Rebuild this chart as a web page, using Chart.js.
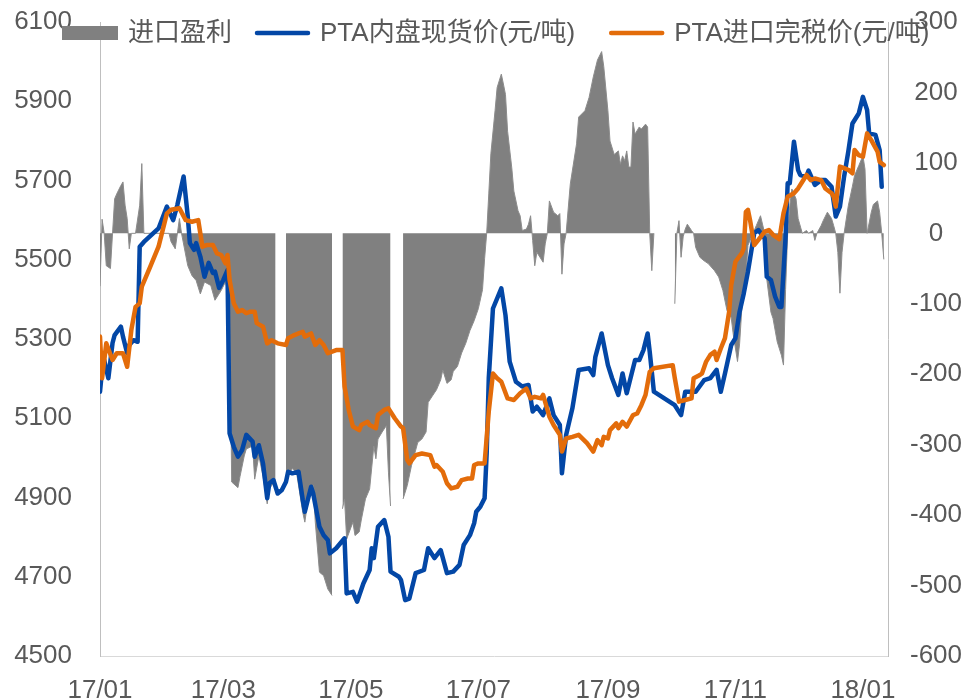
<!DOCTYPE html>
<html><head><meta charset="utf-8">
<script src="https://cdn.jsdelivr.net/npm/chart.js@4.4.1/dist/chart.umd.min.js"></script>
<style>html,body{margin:0;padding:0;background:#fff;} #wrap{width:973px;height:700px;}</style>
</head><body><div id="wrap"><canvas id="c" width="973" height="700"></canvas></div>
<script>
// x values = days since 2017-01-01
const tickDays = [0,59,120,181,243,304,365];
const tickLabels = ['17/01','17/03','17/05','17/07','17/09','17/11','18/01'];

const blueDays = [0,1,2,4,6,7,10,11,13,14,
16,18,19,21,28,32,35,37,40,42,
43,45,46,48,50,52,54,55,57,59,
61,62,64,66,68,70,73,74,76,78,
80,81,83,85,87,89,90,92,95,97,
98,101,102,105,107,109,110,113,117,118,
121,123,126,129,130,131,133,136,138,139,
143,144,146,148,151,155,157,160,163,166,
169,172,174,177,179,180,182,184,185,186,
188,192,194,196,199,202,205,207,209,212,
215,217,220,221,223,226,229,234,236,237,
240,243,245,248,250,252,256,258,260,262,
263,265,275,278,280,285,289,292,295,297,
299,302,304,306,308,310,313,315,318,319,
321,323,325,326,328,329,330,332,334,335,
338,339,342,345,347,350,352,354,356,358,
360,363,365,367,368,371,373,374];
const blueVals = [5167,5222,5247,5201,5290,5310,5331,5306,5264,5285,
5297,5293,5533,5545,5579,5634,5600,5638,5710,5609,
5542,5525,5542,5508,5457,5492,5467,5470,5429,5449,
5474,5062,5028,5003,5020,5058,5041,5003,5032,4986,
4898,4936,4944,4910,4919,4940,4965,4961,4965,4894,
4864,4927,4910,4826,4805,4793,4759,4772,4797,4658,
4662,4637,4683,4717,4772,4747,4826,4843,4801,4713,
4700,4692,4641,4645,4709,4717,4772,4747,4767,4709,
4713,4730,4780,4805,4835,4864,4877,4898,5011,5201,
5377,5428,5360,5243,5192,5180,5184,5117,5129,5108,
5150,5108,5083,4961,5058,5125,5222,5226,5209,5255,
5314,5234,5201,5159,5213,5163,5247,5247,5272,5314,
5268,5167,5133,5108,5167,5167,5196,5201,5222,5167,
5213,5285,5302,5369,5415,5470,5567,5575,5554,5457,
5449,5407,5381,5381,5558,5693,5693,5798,5726,5714,
5710,5725,5689,5701,5701,5684,5609,5634,5710,5773,
5844,5869,5911,5878,5819,5815,5777,5684];

const orangeDays = [0,1,3,6,8,11,13,15,17,19,
20,24,28,32,34,38,41,44,47,49,
51,54,56,58,60,61,62,64,66,68,
70,72,74,75,78,80,82,85,89,90,
93,95,97,98,101,103,105,107,109,113,
116,117,119,121,124,125,128,129,132,133,
136,138,141,144,145,147,148,151,154,158,
160,161,164,166,168,171,173,176,178,179,
181,184,186,188,190,192,195,198,201,204,
206,208,211,212,215,217,220,221,223,226,
229,233,236,238,240,241,243,244,247,248,
250,252,255,257,259,261,263,265,274,275,
277,280,283,284,287,288,290,292,294,295,
297,299,301,302,304,307,308,309,310,311,
313,315,318,320,322,325,327,329,332,334,
336,338,340,342,345,347,350,351,352,354,
356,358,360,361,363,365,367,369,372,373,375];
const orangeVals = [5306,5201,5289,5247,5264,5264,5230,5323,5381,5390,
5432,5482,5533,5617,5626,5630,5600,5596,5600,5533,
5537,5537,5516,5512,5491,5512,5449,5390,5369,5373,
5365,5369,5369,5340,5331,5289,5297,5289,5285,5302,
5310,5314,5318,5306,5314,5285,5297,5285,5264,5272,
5272,5180,5121,5079,5070,5083,5091,5083,5075,5108,
5121,5125,5100,5079,5075,4995,4986,5007,5011,5007,
4978,4982,4965,4936,4923,4927,4944,4948,4948,4982,
4986,4986,5117,5213,5201,5192,5150,5146,5163,5175,
5150,5154,5150,5159,5104,5083,5058,5016,5049,5053,
5058,5037,5016,5045,5032,5053,5049,5070,5087,5075,
5091,5079,5108,5112,5133,5159,5217,5226,5234,5201,
5142,5146,5150,5201,5209,5213,5243,5260,5268,5247,
5276,5302,5369,5436,5495,5516,5529,5621,5626,5600,
5537,5550,5571,5575,5563,5552,5617,5659,5668,5680,
5697,5714,5701,5705,5701,5680,5668,5659,5634,5735,
5731,5727,5718,5777,5764,5760,5819,5802,5773,5747,5739];

const grayDays = [0,1,2,3,5,6,7,8,10,11,
12,13,14,15,17,19,20,21,33,34,
36,38,39,42,44,46,48,50,53,55,
58,60,62,63,66,67,69,70,73,74,
76,78,80,81,83,84,86,89,92,94,
97,98,100,102,103,105,107,109,111,113,
116,117,118,121,122,124,125,127,129,131,
132,133,135,137,138,139,142,145,147,149,
152,154,156,157,159,161,163,164,166,168,
169,171,173,175,177,179,181,183,184,185,
186,187,189,190,192,193,194,195,197,198,
200,201,202,204,205,206,207,208,209,212,
213,214,215,217,219,220,221,222,223,225,
228,229,232,234,236,238,240,241,243,244,
246,248,249,250,251,252,253,254,255,256,
258,259,261,262,263,264,265,270,275,276,
277,278,279,280,281,283,284,285,287,289,
291,294,296,298,300,302,303,305,306,307,
309,310,312,314,316,318,319,321,322,324,
326,327,328,329,330,331,333,334,336,338,
339,341,342,343,345,346,348,350,351,352,
353,354,355,356,358,360,361,363,365,366,
367,369,370,372,373,374,375];
const grayVals = [-75,20,0,-46,-50,0,49,56,68,73,
40,21,-22,0,0,40,99,0,0,-12,
-22,21,0,-46,-60,-67,-86,-69,-74,-95,
-81,-69,-93,-353,-361,-345,-316,-306,-302,-349,
-316,-345,-384,-363,-354,-363,null,-349,-334,-339,
-396,-410,-368,-358,-410,-481,-486,-505,-514,null,
-391,-377,-434,-410,-429,-424,-407,-377,-363,-302,
-320,-292,-282,-273,-339,-387,null,-377,-358,-330,
-297,-292,-282,-240,-231,-222,-208,-194,-213,-208,
-196,-189,-170,-156,-138,-124,-107,-80,-36,0,
56,113,174,207,226,212,197,145,93,60,
32,25,4,6,13,25,-10,-46,-27,-41,
-15,0,46,30,25,28,-58,-15,0,70,
127,165,174,193,222,246,258,237,174,131,
112,117,98,110,103,117,94,94,158,141,
151,148,155,151,0,-53,0,null,-100,0,
18,-34,-5,6,13,4,0,-20,-34,-39,
-43,-53,-62,-81,-110,-120,-144,-182,-157,-110,
-62,-17,-3,11,25,0,-65,-112,-121,-154,
-173,-187,-80,0,39,63,49,21,0,4,
0,4,-10,0,11,18,30,21,11,0,
-27,-85,-27,0,39,67,82,96,110,91,
0,30,41,46,30,0,-37];

const FONT = "'Liberation Sans', 'Noto Sans CJK SC', sans-serif";
const TXT = '#595959';
const toXY = (xs, ys) => xs.map((d, i) => ({x: d, y: ys[i]}));

const legendGaps = [23, 34, 0];
const legendPlugin = {
  id: 'customLegend',
  afterDraw(chart) {
    const ctx = chart.ctx;
    ctx.save();
    ctx.font = '26px ' + FONT;
    ctx.textBaseline = 'middle';
    const y = 33;
    let x = 62;
    chart.data.datasets.forEach((ds, i) => {
      if (ds.fill) {
        ctx.fillStyle = ds.backgroundColor;
        ctx.fillRect(x, y - 7, 56, 14);
        x += 56 + 10;
      } else {
        ctx.strokeStyle = ds.borderColor;
        ctx.lineWidth = 4.5;
        ctx.lineCap = 'round';
        ctx.beginPath(); ctx.moveTo(x + 2, y); ctx.lineTo(x + 53, y); ctx.stroke();
        x += 55 + 10;
      }
      ctx.fillStyle = TXT;
      ctx.textAlign = 'left';
      ctx.fillText(ds.label, x, y + 1);
      x += ctx.measureText(ds.label).width + legendGaps[i];
    });
    ctx.restore();
  }
};

new Chart(document.getElementById('c'), {
  type: 'line',
  data: {
    datasets: [
      { label: '进口盈利', data: toXY(grayDays, grayVals), yAxisID: 'y1', fill: 'origin',
        backgroundColor: '#808080', borderColor: '#8c8c8c', borderWidth: 1, pointRadius: 0,
        tension: 0, spanGaps: false, order: 3 },
      { label: 'PTA内盘现货价(元/吨)', data: toXY(blueDays, blueVals), yAxisID: 'y', fill: false,
        borderColor: '#0347A6', borderWidth: 4.5, pointRadius: 0, tension: 0,
        borderJoinStyle: 'round', borderCapStyle: 'round', order: 2 },
      { label: 'PTA进口完税价(元/吨)', data: toXY(orangeDays, orangeVals), yAxisID: 'y', fill: false,
        borderColor: '#E36C0A', borderWidth: 4.5, pointRadius: 0, tension: 0,
        borderJoinStyle: 'round', borderCapStyle: 'round', order: 1 }
    ]
  },
  options: {
    responsive: false,
    animation: false,
    devicePixelRatio: 1,
    layout: { padding: { top: 22, left: 0, right: 0, bottom: 0 } },
    plugins: { legend: { display: false }, tooltip: { enabled: false } },
    scales: {
      x: {
        type: 'linear', min: 0, max: 377,
        grid: { display: false, drawTicks: false },
        border: { display: true, color: '#d9d9d9', width: 1 },
        afterBuildTicks: s => { s.ticks = tickDays.map(v => ({ value: v })); },
        afterFit: s => { s.height = 44; s.paddingLeft = 0; s.paddingRight = 0; },
        ticks: { autoSkip: false, maxRotation: 0, padding: 19, color: TXT,
          font: { size: 26, family: FONT },
          callback: v => tickLabels[tickDays.indexOf(v)] }
      },
      y: {
        position: 'left', min: 4500, max: 6100,
        grid: { display: false, drawTicks: false },
        border: { display: true, color: '#bfbfbf', width: 1 },
        afterFit: s => { s.width = 100; s.paddingTop = 0; s.paddingBottom = 0; },
        ticks: { stepSize: 200, padding: 28, color: TXT, font: { size: 26, family: FONT },
          callback: v => String(v) }
      },
      y1: {
        position: 'right', min: -600, max: 300,
        grid: { display: false, drawTicks: false },
        border: { display: true, color: '#bfbfbf', width: 1 },
        afterFit: s => { s.width = 85; s.paddingTop = 0; s.paddingBottom = 0; },
        ticks: { stepSize: 100, padding: 22, crossAlign: 'center', color: TXT,
          font: { size: 26, family: FONT }, callback: v => String(v) }
      }
    }
  },
  plugins: [legendPlugin]
});
</script>
</body></html>
